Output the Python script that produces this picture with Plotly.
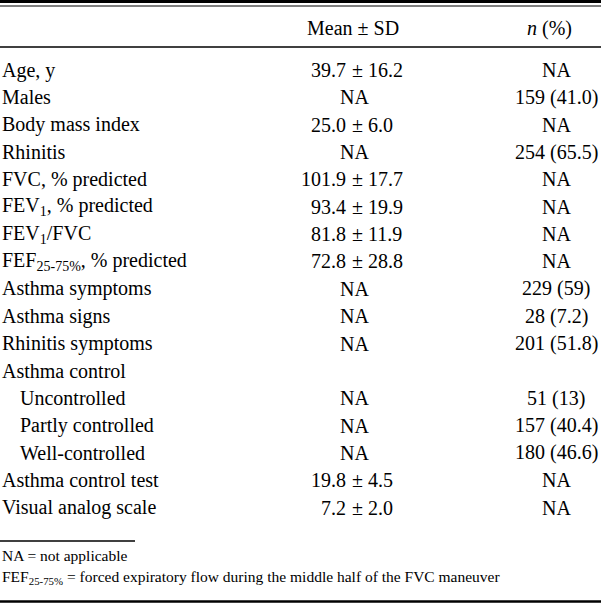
"""Patient characteristics table drawn as a Plotly figure."""

import plotly.graph_objects as go

# table content
headers = ["Mean ± SD", "<i>n</i> (%)"]
labels = ["Age, y", "Males", "Body mass index", "Rhinitis", "FVC, % predicted",
          "FEV<sub>1</sub>, % predicted", "FEV<sub>1</sub>/FVC",
          "FEF<sub>25-75%</sub>, % predicted", "Asthma symptoms", "Asthma signs",
          "Rhinitis symptoms", "Asthma control", "Uncontrolled", "Partly controlled",
          "Well-controlled", "Asthma control test", "Visual analog scale"]
indented = [False] * 12 + [True, True, True] + [False, False]
mean_sd = ["39.7 ± 16.2", "NA", "25.0 ± 6.0", "NA", "101.9 ± 17.7", "93.4 ± 19.9",
           "81.8 ± 11.9", "72.8 ± 28.8", "NA", "NA", "NA", "", "NA", "NA", "NA",
           "19.8 ± 4.5", "7.2 ± 2.0"]
n_pct = ["NA", "159 (41.0)", "NA", "254 (65.5)", "NA", "NA", "NA", "NA", "229 (59)",
         "28 (7.2)", "201 (51.8)", "", "51 (13)", "157 (40.4)", "180 (46.6)", "NA", "NA"]
footnotes = ["NA = not applicable",
             "FEF<sub>25-75%</sub> = forced expiratory flow during the middle half of the FVC maneuver"]

W, H = 601, 605
FONT = "Liberation Serif"
SIZE = 20
row_y0, row_h = 70, 27.35
x_label, x_indent = 1, 19
x_pm, x_na, x_col3 = 357, 354, 556


def cell(x, y, text, anchor, size=SIZE):
    return dict(x=x, y=y, xref="x", yref="y", text=text, showarrow=False,
                xanchor=anchor, yanchor="middle", borderpad=0,
                font=dict(family=FONT, size=size, color="#000"))


ann = [cell(353, 28, headers[0], "center"), cell(549, 28, headers[1], "center")]
for i, lab in enumerate(labels):
    y = row_y0 + i * row_h
    ann.append(cell(x_indent if indented[i] else x_label, y, lab, "left"))
    v = mean_sd[i]
    if " ± " in v:
        m, s = v.split(" ± ")
        ann.append(cell(x_pm - 10, y, m, "right"))
        ann.append(cell(x_pm, y, "±", "center"))
        ann.append(cell(x_pm + 10, y, s, "left"))
    elif v:
        ann.append(cell(x_na, y, v, "center"))
    if n_pct[i]:
        ann.append(cell(x_col3, y, n_pct[i], "center"))

ann.append(cell(1, 555, footnotes[0], "left", 15.5))
ann.append(cell(1, 577, footnotes[1], "left", 15.5))


def rule(y, width, x1=W):
    return dict(type="line", xref="x", yref="y", x0=0, x1=x1, y0=y, y1=y,
                line=dict(color="#000", width=width))


shapes = [rule(1.5, 3), rule(6, 1.2), rule(47, 1.5), rule(541, 1.3, 135), rule(601.5, 2.5)]

fig = go.Figure()
fig.update_layout(
    width=W, height=H, margin=dict(l=0, r=0, t=0, b=0),
    paper_bgcolor="white", plot_bgcolor="white", showlegend=False,
    xaxis=dict(range=[0, W], visible=False, fixedrange=True),
    yaxis=dict(range=[H, 0], visible=False, fixedrange=True),
    annotations=ann, shapes=shapes,
)
# drop the page's default body margin so the figure sits at the window origin
fig.write_html("out.html", config={"displayModeBar": False},
               post_script="document.body.style.margin='0';")
